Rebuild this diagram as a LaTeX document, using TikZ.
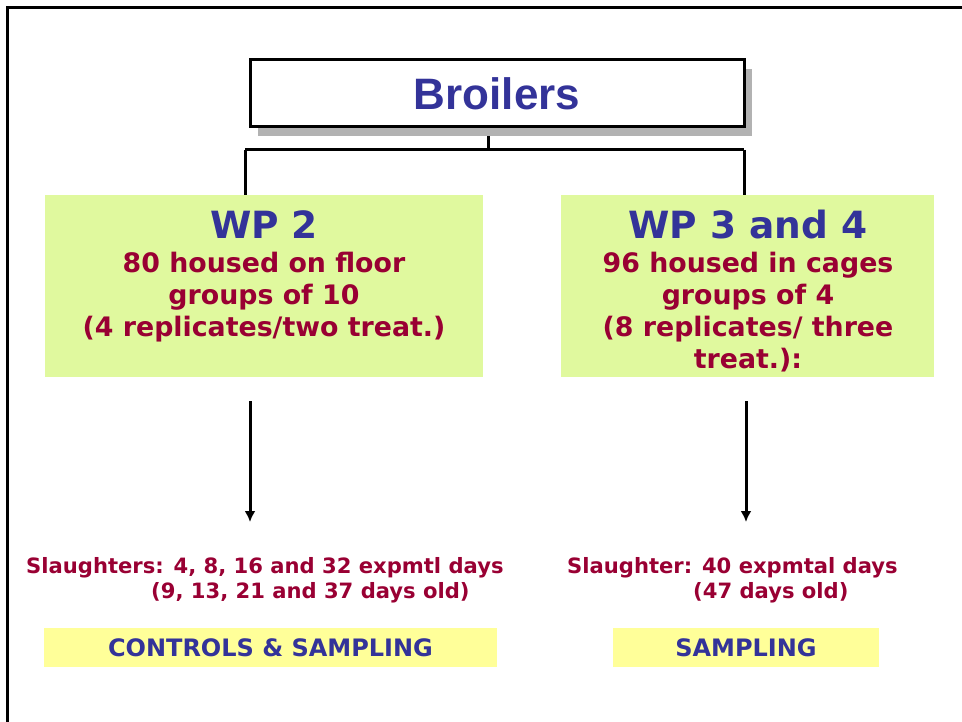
\documentclass[tikz,border=0pt]{standalone}
\usepackage{fontspec}
\setmainfont{DejaVu Sans}
\newfontfamily\arialfont{Liberation Sans}
\usetikzlibrary{arrows.meta,shadows,positioning}
\definecolor{wpblue}{RGB}{51,51,153}
\definecolor{wpred}{RGB}{153,0,51}
\definecolor{wpgreen}{RGB}{224,249,158}
\definecolor{wpyellow}{RGB}{255,255,153}
\pgfdeclarelayer{nodelayer}
\pgfdeclarelayer{edgelayer}
\pgfsetlayers{edgelayer,nodelayer,main}
\tikzstyle{title box}=[fill=white, draw=black, line width=3pt, shape=rectangle, minimum width=494pt, minimum height=67pt, inner sep=0, text=wpblue, font=\arialfont\bfseries\fontsize{44}{44}\selectfont, drop shadow={shadow xshift=8pt, shadow yshift=-9pt, fill=black!30, opacity=1}]
\tikzstyle{wp box}=[fill=wpgreen, draw=none, shape=rectangle, minimum height=182pt, inner sep=0]
\tikzstyle{wp title}=[text=wpblue, font=\bfseries\fontsize{37.5}{40}\selectfont, inner sep=0, anchor=base]
\tikzstyle{wp text}=[text=wpred, font=\bfseries\fontsize{26.8}{32}\selectfont, align=center, inner sep=0, anchor=north]
\tikzstyle{slaughter text}=[text=wpred, font=\bfseries\fontsize{21.1}{25}\selectfont, align=left, inner sep=0, anchor=north west]
\tikzstyle{sample box}=[fill=wpyellow, draw=none, text=wpblue, font=\bfseries\fontsize{24}{24}\selectfont, minimum height=39pt, inner sep=0]
\tikzstyle{link}=[draw=black, line width=3pt]
\tikzstyle{down arrow}=[draw=black, line width=3pt, -{Latex[length=11pt,width=11pt]}]

\begin{document}
\begin{tikzpicture}[x=1pt, y=-1pt]
	\useasboundingbox (0,0) rectangle (962,722);
	\draw [line width=2.8pt] (7.5,722) -- (7.5,7.5) -- (962,7.5);
	\begin{pgfonlayer}{nodelayer}
		\node [style=title box] (0) at (497, 93.5) {Broilers};
		\node [style=wp box, minimum width=438pt] (1) at (264, 286) {};
		\node [style=wp box, minimum width=373pt] (2) at (747.5, 286) {};
		\node [style=wp title] (3) at (264, 239) {WP 2};
		\node [style=wp title] (4) at (748, 239) {WP 3 and 4};
		\node [style=wp text] (5) at (264, 252) {80 housed on floor\\groups of 10\\(4 replicates/two treat.)};
		\node [style=wp text] (6) at (748, 252) {96 housed in cages\\groups of 4\\(8 replicates/ three\\treat.):};
		\node [style=slaughter text] (7) at (26, 557) {Slaughters: 4, 8, 16 and 32 expmtl days\\\hspace*{125pt}(9, 13, 21 and 37 days old)};
		\node [style=slaughter text] (8) at (567, 557) {Slaughter: 40 expmtal days\\\hspace*{126pt}(47 days old)};
		\node [style=sample box, minimum width=453pt] (9) at (270.5, 647.5) {CONTROLS \& SAMPLING};
		\node [style=sample box, minimum width=266pt] (10) at (746, 647.5) {SAMPLING};
		\coordinate (11) at (488, 150);
		\coordinate (12) at (245, 150);
		\coordinate (13) at (744, 150);
		\coordinate (14) at (250, 401);
		\coordinate (15) at (250, 522);
		\coordinate (16) at (746, 401);
		\coordinate (17) at (746, 522);
	\end{pgfonlayer}
	\begin{pgfonlayer}{edgelayer}
		\draw [style=link] (11 |- 0.south) to (11);
		\draw [style=link] (12) to (13);
		\draw [style=link] (12) to (12 |- 1.north);
		\draw [style=link] (13) to (13 |- 2.north);
		\draw [style=down arrow] (14) to (15);
		\draw [style=down arrow] (16) to (17);
	\end{pgfonlayer}
\end{tikzpicture}
\end{document}
